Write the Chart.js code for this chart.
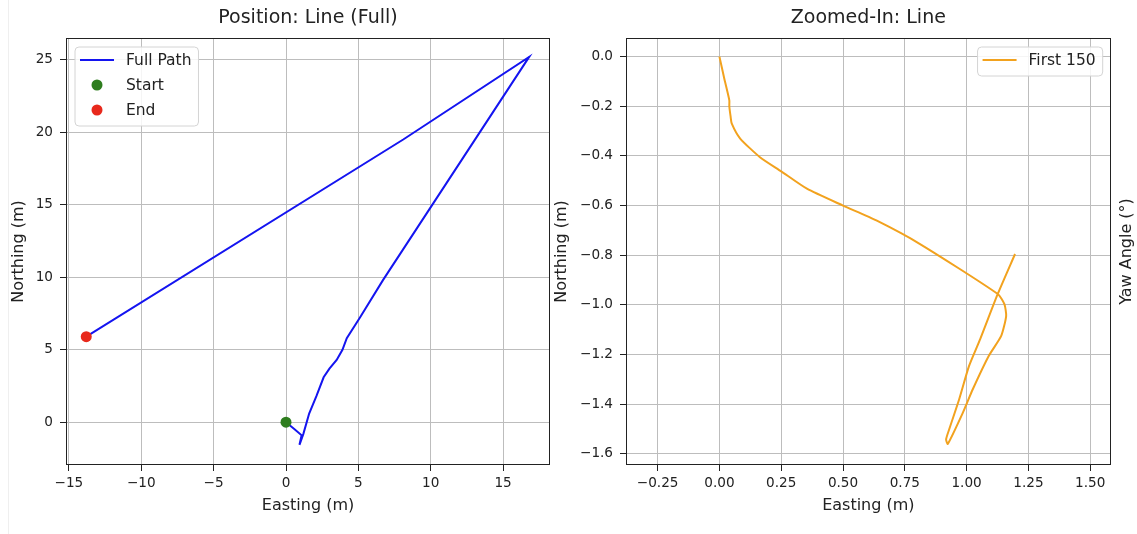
<!DOCTYPE html>
<html lang="en">
<head>
  <meta charset="UTF-8" />
  <title>Position: Line (Full) / Zoomed-In: Line</title>
  <script src="https://cdn.jsdelivr.net/npm/chart.js"></script>
  <style>
    html, body { margin: 0; padding: 0; background: #fff; overflow: hidden; }
    body { width: 1137px; height: 534px; position: relative; }
    .edge { position: absolute; left: 8px; top: 0; width: 1px; height: 534px; background: #efefef; }
    #fullBox { position: absolute; left: 0; top: 0; width: 560px; height: 534px; }
    #zoomBox { position: absolute; left: 545px; top: 0; width: 592px; height: 534px; }
  </style>
</head>
<body>
  <div class="edge"></div>
  <div id="fullBox"><canvas id="fullChart"></canvas></div>
  <div id="zoomBox"><canvas id="zoomChart"></canvas></div>

  <script>
    // full path, metres
    const pathEasting  = [0, 0.55, 1.08, 0.93, 1.2, 1.6, 2.1, 2.6, 3.0, 3.5, 3.9, 4.2, 5.1, 6.7, 16.8, 8.1, -13.8];
    const pathNorthing = [0, -0.45, -0.9, -1.56, -0.8, 0.6, 1.8, 3.1, 3.7, 4.3, 5.0, 5.8, 7.2, 9.8, 25.2, 19.5, 5.9];
    const startPoint = [0, 0];
    const endPoint = [-13.8, 5.9];

    // first 150 samples
    const firstEasting  = [0, 0.02, 0.04, 0.04, 0.045, 0.05, 0.084, 0.164, 0.25, 0.354, 0.5, 0.635, 0.81,
                           1.126, 1.153, 1.16, 1.14, 1.09, 1.025, 0.985, 0.924, 0.917, 0.93, 0.97, 1.01, 1.055, 1.126, 1.196];
    const firstNorthing = [0, -0.09, -0.176, -0.2, -0.24, -0.27, -0.33, -0.405, -0.462, -0.532, -0.6, -0.66, -0.754,
                           -0.956, -0.997, -1.045, -1.125, -1.205, -1.34, -1.434, -1.56, -1.542, -1.5, -1.38, -1.246, -1.138, -0.956, -0.795];

    const fullXTicks = [-15, -10, -5, 0, 5, 10, 15];
    const fullYTicks = [0, 5, 10, 15, 20, 25];
    const zoomXTicks = [-0.25, 0, 0.25, 0.5, 0.75, 1, 1.25, 1.5];
    const zoomYTicks = [0, -0.2, -0.4, -0.6, -0.8, -1.0, -1.2, -1.4, -1.6];

    const INK = '#222';
    const GRID = '#bdbdbd';
    Chart.defaults.font.family = '"DejaVu Sans", sans-serif';
    Chart.defaults.color = INK;

    const toPts = (xs, ys) => xs.map((x, i) => ({ x: x, y: ys[i] }));
    const fmt = (v, d) => (v < 0 ? '\u2212' : '') + Math.abs(v).toFixed(d);

    // frame, title, boxed legend and the stray right-hand label, matplotlib style
    const decor = {
      id: 'decor',
      afterDraw(chart, args, opts) {
        const ctx = chart.ctx, a = chart.chartArea;
        ctx.save();
        ctx.strokeStyle = INK;
        ctx.lineWidth = 1;
        const l = Math.round(a.left) + 0.5, t = Math.round(a.top) + 0.5;
        const r = Math.round(a.right) - 0.5, b = Math.round(a.bottom) - 0.5;
        ctx.strokeRect(l, t, r - l, b - t);

        ctx.fillStyle = INK;
        ctx.textAlign = 'center';
        ctx.textBaseline = 'middle';
        ctx.font = '19px "DejaVu Sans"';
        ctx.fillText(opts.title, (a.left + a.right) / 2, 18);

        if (opts.sideLabel) {
          ctx.font = '16px "DejaVu Sans"';
          ctx.save();
          ctx.translate(chart.width - 10, (a.top + a.bottom) / 2);
          ctx.rotate(-Math.PI / 2);
          ctx.fillText(opts.sideLabel, 0, 0);
          ctx.restore();
        }

        // legend
        const sets = chart.data.datasets;
        ctx.font = '15.5px "DejaVu Sans"';
        const textW = Math.max(...sets.map(s => ctx.measureText(s.label).width));
        const w = 5 + 34 + 12 + textW + 7;
        const h = 13 + (sets.length - 1) * 25 + 16;
        const bx = opts.corner === 'tr' ? a.right - 8 - w : a.left + 9;
        const by = a.top + 9;
        ctx.beginPath();
        ctx.roundRect(bx, by, w, h, 4);
        ctx.fillStyle = 'rgba(255,255,255,0.85)';
        ctx.fill();
        ctx.strokeStyle = '#d4d4d4';
        ctx.stroke();
        sets.forEach((s, i) => {
          const cy = by + 13 + i * 25;
          if (s.showLine) {
            ctx.strokeStyle = s.borderColor;
            ctx.lineWidth = 2;
            ctx.beginPath();
            ctx.moveTo(bx + 5, cy);
            ctx.lineTo(bx + 39, cy);
            ctx.stroke();
          } else {
            ctx.fillStyle = s.backgroundColor;
            ctx.beginPath();
            ctx.arc(bx + 22, cy, 5.5, 0, Math.PI * 2);
            ctx.fill();
          }
          ctx.fillStyle = INK;
          ctx.textAlign = 'left';
          ctx.fillText(s.label, bx + 51, cy + 1);
        });
        ctx.restore();
      }
    };

    function axis(min, max, ticks, digits, size, title, titlePad) {
      const vertical = size.width !== undefined;
      return {
        type: 'linear',
        min: min,
        max: max,
        afterBuildTicks: s => { s.ticks = ticks.map(v => ({ value: v })); },
        afterFit: s => { if (vertical) s.width = size.width; else s.height = size.height; },
        ticks: { callback: v => fmt(v, digits), font: { size: 13.6 }, padding: vertical ? 7 : 4, maxRotation: 0, autoSkip: false },
        grid: { color: GRID, lineWidth: 1, tickLength: 6, tickColor: INK },
        border: { display: false },
        title: { display: true, text: title, font: { size: 16 }, padding: titlePad }
      };
    }

    new Chart(document.getElementById('fullChart'), {
      type: 'scatter',
      data: {
        datasets: [
          { label: 'Full Path', data: toPts(pathEasting, pathNorthing), showLine: true, borderColor: '#1414f0',
            borderWidth: 2, pointRadius: 0, tension: 0, order: 1 },
          { label: 'Start', data: [{ x: startPoint[0], y: startPoint[1] }], showLine: false, backgroundColor: '#2e7d1e',
            borderColor: '#2e7d1e', pointRadius: 5.5, pointBorderWidth: 0, order: 0 },
          { label: 'End', data: [{ x: endPoint[0], y: endPoint[1] }], showLine: false, backgroundColor: '#e8291c',
            borderColor: '#e8291c', pointRadius: 5.5, pointBorderWidth: 0, order: 0 }
        ]
      },
      options: {
        responsive: true,
        maintainAspectRatio: false,
        animation: false,
        events: [],
        layout: { padding: { top: 38, right: 10, left: 0, bottom: 0 } },
        scales: {
          x: axis(-15.2, 18.24, fullXTicks, 0, { height: 69 }, 'Easting (m)', { bottom: 19 }),
          y: axis(-2.95, 26.5, fullYTicks, 0, { width: 66 }, 'Northing (m)', { top: 9 })
        },
        plugins: {
          legend: { display: false },
          tooltip: { enabled: false },
          decor: { title: 'Position: Line (Full)', corner: 'tl' }
        }
      },
      plugins: [decor]
    });

    new Chart(document.getElementById('zoomChart'), {
      type: 'scatter',
      data: {
        datasets: [
          { label: 'First 150', data: toPts(firstEasting, firstNorthing), showLine: true, borderColor: '#f2a21e',
            borderWidth: 2, pointRadius: 0, tension: 0.2 }
        ]
      },
      options: {
        responsive: true,
        maintainAspectRatio: false,
        animation: false,
        events: [],
        layout: { padding: { top: 38, right: 26.3, left: 0, bottom: 0 } },
        scales: {
          x: axis(-0.378, 1.583, zoomXTicks, 2, { height: 69 }, 'Easting (m)', { bottom: 19 }),
          y: axis(-1.645, 0.075, zoomYTicks, 1, { width: 81 }, 'Northing (m)', { top: 7.4 })
        },
        plugins: {
          legend: { display: false },
          tooltip: { enabled: false },
          decor: { title: 'Zoomed-In: Line', corner: 'tr', sideLabel: 'Yaw Angle (\u00b0)' }
        }
      },
      plugins: [decor]
    });
  </script>
</body>
</html>
